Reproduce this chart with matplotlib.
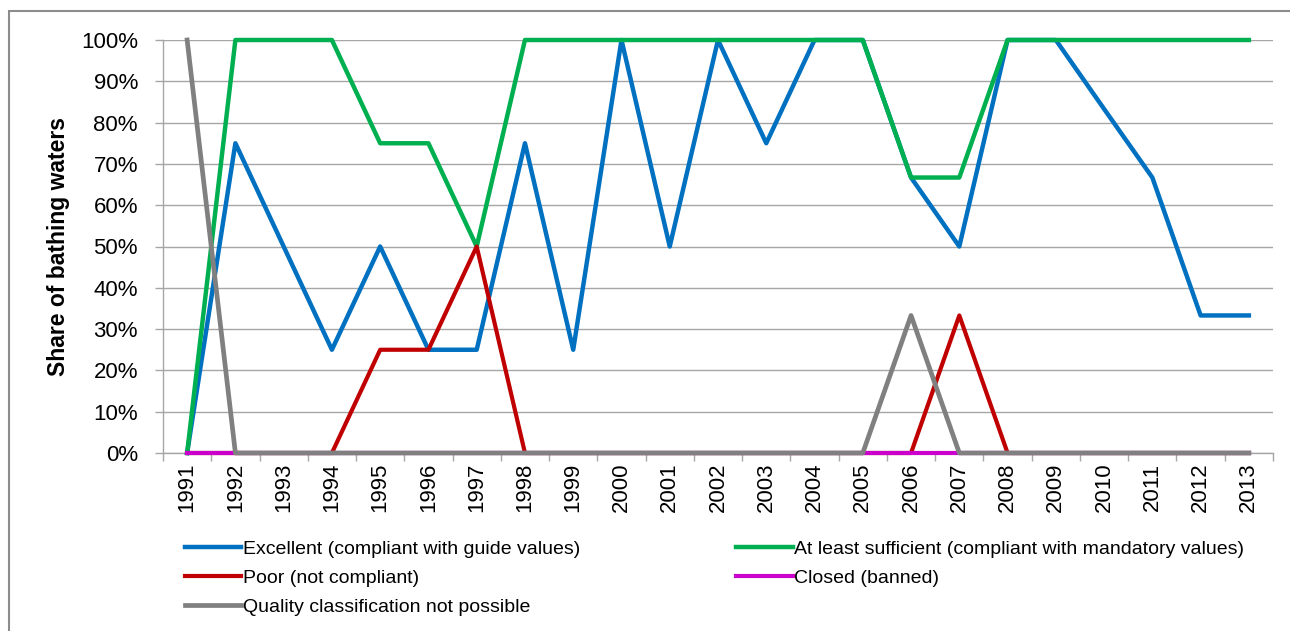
import numpy as np
import matplotlib
matplotlib.use("Agg")
import matplotlib.pyplot as plt
from matplotlib.patches import Rectangle

## data

years = list(range(1991, 2014))
excellent  = [0, 75, 50, 25, 50, 25, 25, 75, 25, 100, 50, 100, 75, 100, 100,
              66.7, 50, 100, 100, 83.3, 66.7, 33.3, 33.3]
sufficient = [0, 100, 100, 100, 75, 75, 50, 100, 100, 100, 100, 100, 100, 100, 100,
              66.7, 66.7, 100, 100, 100, 100, 100, 100]
poor       = [0, 0, 0, 0, 25, 25, 50, 0, 0, 0, 0, 0, 0, 0, 0,
              0, 33.3, 0, 0, 0, 0, 0, 0]
closed     = [0] * 23
not_poss   = [100, 0, 0, 0, 0, 0, 0, 0, 0, 0, 0, 0, 0, 0, 0,
              33.3, 0, 0, 0, 0, 0, 0, 0]

labels = ["Excellent (compliant with guide values)",
          "At least sufficient (compliant with mandatory values)",
          "Poor (not compliant)",
          "Closed (banned)",
          "Quality classification not possible"]

plt.rcParams['font.family'] = ['Liberation Sans', 'DejaVu Sans']

W, H = 1290, 631
fig = plt.figure(figsize=(W / 100, H / 100), dpi=100)
ax = fig.add_axes([163 / W, 1 - 453 / H, (1273 - 163) / W, (453 - 40) / H])

x = np.arange(len(years))
l1, = ax.plot(x, excellent, color='#0070C0', lw=3.2, label=labels[0], zorder=3, clip_on=False)
l2, = ax.plot(x, sufficient, color='#00B050', lw=3.2, label=labels[1], zorder=3, clip_on=False)
l3, = ax.plot(x, poor, color='#C00000', lw=3.0, label=labels[2], zorder=3, clip_on=False)
l4, = ax.plot(x, closed, color='#CC00CC', lw=3.0, label=labels[3], zorder=3.1, clip_on=False)
l5, = ax.plot(x, not_poss, color='#808080', lw=3.4, label=labels[4], zorder=3.2, clip_on=False)

ax.set_xlim(-0.5, len(years) - 0.5)
ax.set_ylim(0, 100)
ax.set_yticks(np.arange(0, 101, 10))
ax.set_yticklabels([f"{v}%" for v in range(0, 101, 10)])
ax.set_xticks(x)
ax.set_xticklabels([str(y) for y in years], rotation=90)
ax.set_xticks(np.arange(-0.5, len(years)), minor=True)

ax.grid(axis='y', color='#A6A6A6', lw=1.0, zorder=0)
ax.tick_params(axis='x', which='major', length=0, pad=7, labelsize=16)
ax.tick_params(axis='x', which='minor', length=6, color='#A6A6A6', width=1)
ax.tick_params(axis='y', length=6, color='#A6A6A6', width=1, pad=12, labelsize=16)
for s in ['top', 'right']:
    ax.spines[s].set_visible(False)
for s in ['left', 'bottom']:
    ax.spines[s].set_color('#A6A6A6')
    ax.spines[s].set_linewidth(1)
ax.set_axisbelow(True)

fig.text(59 / W, 1 - 247 / H, "Share of bathing waters", rotation=90,
         ha='center', va='center', fontsize=16.5, fontweight='bold')

fig.legend([l1, l3, l5, l2, l4], [labels[0], labels[2], labels[4], labels[1], labels[3]],
           ncol=2, loc='upper left', bbox_to_anchor=(185 / W, 1 - 540 / H),
           frameon=False, fontsize=14, handlelength=2.9, handletextpad=0.1,
           columnspacing=8.0, labelspacing=0.6, borderpad=0, borderaxespad=0)

# bordure du graphique
fig.patches.append(Rectangle((9 / W, -0.1), 1.2, 1 - 11 / H + 0.1,
                             transform=fig.transFigure, fill=False,
                             edgecolor='#8C8C8C', lw=1.5))

fig.savefig("out.png", dpi=100)
